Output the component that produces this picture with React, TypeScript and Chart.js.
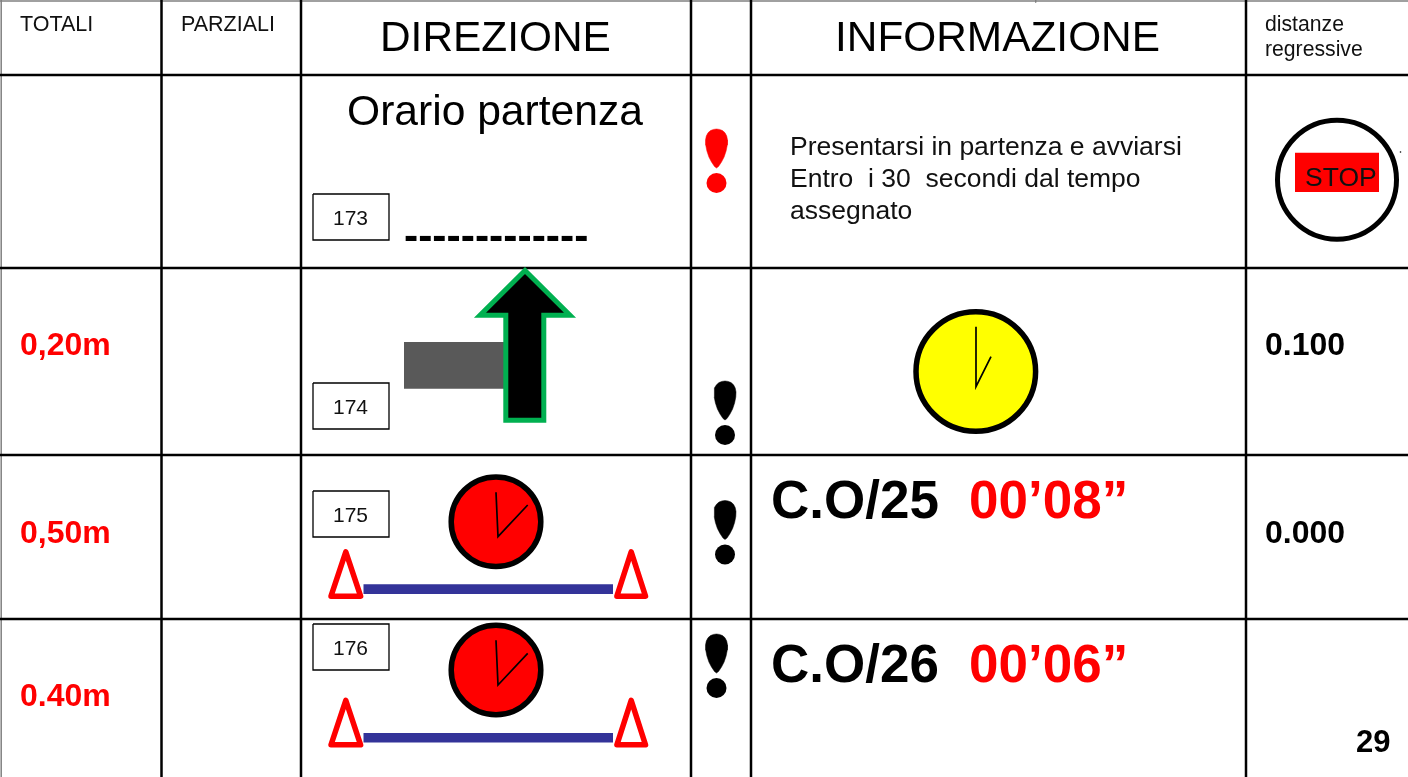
import React, { useEffect, useRef } from "react";
import { Chart, registerables } from "chart.js";

Chart.register(...registerables);

type Pt = [number, number];

const SANS = '"Liberation Sans", Arial, sans-serif';
const BLACK = "#000000";
const INK = "#111111";
const RED = "#ff0000";
const GREEN = "#00b050";
const BLUE = "#333399";
const GREY = "#595959";
const YELLOW = "#ffff00";
const EDGE = "#808080";

const gridColumns = [161.5, 301, 691, 751, 1246];
const gridRows = [75, 268, 455, 619];
const gridBottom = 777;
const gridWidth = 2.5;
const edgeLeft: Pt[] = [[1.2, 0], [1.2, 777]];
const edgeTop: Pt[] = [[0, 1], [1408, 1]];
const stemTick: Pt[] = [[1035.7, 0], [1035.7, 2.5]];

const stepBoxes: Pt[] = [[313, 194], [313, 383], [313, 491], [313, 624]];
const stepBoxSize: Pt = [76, 46];

const dropOutline: Pt[] = [
  [0, 0], [3, 0.4], [6, 1.6], [8.5, 3.8], [10.2, 7], [11, 11], [10.8, 16], [9.6, 22], [7.6, 28],
  [5, 33], [2, 37.5], [0, 39], [-2, 37.5], [-5, 33], [-7.6, 28], [-9.6, 22], [-10.8, 16],
  [-11, 11], [-10.2, 7], [-8.5, 3.8], [-6, 1.6], [-3, 0.4], [0, 0],
];
const alertTops: Pt[] = [[716.5, 129], [725, 381], [725, 500.5], [716.5, 634]];
const alertColors = [RED, BLACK, BLACK, BLACK];
const alertDotOffset = 54;
const alertDotRadius = 10;

const greyBranch: Pt[] = [[404, 342], [504, 342], [504, 388.7], [404, 388.7], [404, 342]];
const arrowOutline: Pt[] = [
  [524.8, 420.2], [505.8, 420.2], [505.8, 315.2], [480, 315.2], [525, 270.5], [570, 315.2],
  [543.8, 315.2], [543.8, 420.2], [524.8, 420.2],
];

const stopBadge: Pt[] = [[1295, 152.7], [1379, 152.7], [1379, 192], [1295, 192], [1295, 152.7]];
const stopRing = { centre: [1337, 179.7] as Pt, radius: 59.5 };
const strayDot: Pt = [1400.5, 152];

const yellowClock = { centre: [975.8, 371.5] as Pt, radius: 59.8 };
const yellowHands: Pt[] = [[976, 326.7], [976, 386.7], [991, 356.7]];
const redClocks: Pt[] = [[496, 521.7], [496, 670]];
const redClockRadius = 44.8;
const redHands: Pt[][] = [
  [[496, 492.3], [498, 536.7], [527.7, 505]],
  [[496, 640.3], [498, 685], [527.7, 653.3]],
];

const markerRows = [0, 148.6];
const leftCone: Pt[] = [[345.8, 596.2], [331, 596.2], [345.8, 551.8], [360.6, 596.2], [345.8, 596.2]];
const rightCone: Pt[] = [[631.2, 596.2], [616.9, 596.2], [631.2, 551.8], [645.5, 596.2], [631.2, 596.2]];
const linkBar: Pt[] = [[363.5, 584.3], [613, 584.3], [613, 594], [363.5, 594], [363.5, 584.3]];

type Label = [string, number, number, string, string];
const labels: Label[] = [
  ["TOTALI", 20, 31, `21.5px ${SANS}`, INK],
  ["PARZIALI", 181, 31, `21.5px ${SANS}`, INK],
  ["DIREZIONE", 380, 50.5, `42.4px ${SANS}`, BLACK],
  ["INFORMAZIONE", 835, 50.5, `42.4px ${SANS}`, BLACK],
  ["distanze", 1265, 31, `21.2px ${SANS}`, INK],
  ["regressive", 1265, 56, `21.2px ${SANS}`, INK],
  ["Orario partenza", 347, 125, `42.6px ${SANS}`, BLACK],
  ["173", 333, 225, `21px ${SANS}`, INK],
  ["-------------", 404, 249.5, `bold 42.6px ${SANS}`, BLACK],
  ["Presentarsi in partenza e avviarsi", 790, 155, `26.5px ${SANS}`, INK],
  ["Entro  i 30  secondi dal tempo", 790, 187, `26.5px ${SANS}`, INK],
  ["assegnato", 790, 219, `26.5px ${SANS}`, INK],
  ["STOP", 1305, 186, `26.5px ${SANS}`, INK],
  ["0,20m", 20, 355, `bold 32px ${SANS}`, RED],
  ["174", 333, 414, `21px ${SANS}`, INK],
  ["0.100", 1265, 355, `bold 32px ${SANS}`, BLACK],
  ["0,50m", 20, 543, `bold 32px ${SANS}`, RED],
  ["175", 333, 522, `21px ${SANS}`, INK],
  ["C.O/25", 771, 517.5, `bold 53px ${SANS}`, BLACK],
  ["00\u201908\u201d", 969, 517.5, `bold 53px ${SANS}`, RED],
  ["0.000", 1265, 543, `bold 32px ${SANS}`, BLACK],
  ["0.40m", 20, 706, `bold 32px ${SANS}`, RED],
  ["176", 333, 655, `21px ${SANS}`, INK],
  ["C.O/26", 771, 681.5, `bold 53px ${SANS}`, BLACK],
  ["00\u201906\u201d", 969, 681.5, `bold 53px ${SANS}`, RED],
  ["29", 1356, 752, `bold 31px ${SANS}`, BLACK],
];

const toXY = (pts: Pt[]) => pts.map(([x, y]) => ({ x, y }));
const line = (pts: Pt[], color: string, width: number, extra: object = {}) => ({
  data: toXY(pts),
  showLine: true,
  borderColor: color,
  borderWidth: width,
  pointRadius: 0,
  tension: 0,
  fill: false,
  clip: false,
  ...extra,
});
const shape = (pts: Pt[], fillColor: string, stroke: string, width: number, extra: object = {}) =>
  line(pts, stroke, width, { fill: "shape", backgroundColor: fillColor, ...extra });
const disc = (c: Pt, radius: number, fillColor: string, stroke: string, width: number) => ({
  data: toXY([c]),
  showLine: false,
  pointStyle: "circle",
  pointRadius: radius,
  pointBackgroundColor: fillColor,
  pointBorderColor: stroke,
  pointBorderWidth: width,
  clip: false,
});
const shift = (pts: Pt[], dx: number, dy: number): Pt[] => pts.map(([x, y]) => [x + dx, y + dy]);

function buildDatasets() {
  const sets: any[] = [];
  sets.push(line(edgeLeft, EDGE, 1.5));
  sets.push(line(edgeTop, EDGE, 1.5));
  sets.push(line(stemTick, EDGE, 1));
  gridColumns.forEach((x) => sets.push(line([[x, 0], [x, gridBottom]], BLACK, gridWidth)));
  gridRows.forEach((y) => sets.push(line([[0, y], [1408, y]], BLACK, gridWidth)));

  stepBoxes.forEach(([x, y]) => {
    const [w, h] = stepBoxSize;
    sets.push(shape([[x, y], [x + w, y], [x + w, y + h], [x, y + h], [x, y]], "#ffffff", BLACK, 1.3));
  });

  alertTops.forEach(([x, y], i) => {
    sets.push(shape(shift(dropOutline, x, y), alertColors[i], alertColors[i], 0.5));
    sets.push(disc([x, y + alertDotOffset], alertDotRadius, alertColors[i], alertColors[i], 0));
  });

  sets.push(shape(greyBranch, GREY, GREY, 0));
  sets.push(shape(arrowOutline, BLACK, GREEN, 5, { borderJoinStyle: "miter" }));

  sets.push(disc(stopRing.centre, stopRing.radius, "#ffffff", BLACK, 5));
  sets.push(shape(stopBadge, RED, RED, 0));
  sets.push(disc(strayDot, 0.8, BLACK, BLACK, 0));

  sets.push(disc(yellowClock.centre, yellowClock.radius, YELLOW, BLACK, 5.5));
  sets.push(line(yellowHands, BLACK, 1.7));

  redClocks.forEach((c, i) => {
    sets.push(disc(c, redClockRadius, RED, BLACK, 5.5));
    sets.push(line(redHands[i], BLACK, 1.7));
  });

  markerRows.forEach((dy) => {
    sets.push(shape(shift(linkBar, 0, dy), BLUE, BLUE, 0));
    sets.push(shape(shift(leftCone, 0, dy), "#ffffff", RED, 5.5, { borderJoinStyle: "round" }));
    sets.push(shape(shift(rightCone, 0, dy), "#ffffff", RED, 5.5, { borderJoinStyle: "round" }));
  });

  sets.forEach((s, i) => (s.order = sets.length - i));
  return sets;
}

const textPlugin = {
  id: "roadbookText",
  afterDatasetsDraw(chart: any) {
    const { ctx, scales } = chart;
    ctx.save();
    ctx.textBaseline = "alphabetic";
    ctx.textAlign = "left";
    labels.forEach(([text, x, y, font, color]) => {
      ctx.font = font;
      ctx.fillStyle = color;
      ctx.fillText(text, scales.x.getPixelForValue(x), scales.y.getPixelForValue(y));
    });
    ctx.restore();
  },
};

export default function App() {
  const ref = useRef<HTMLCanvasElement>(null);
  useEffect(() => {
    document.body.style.margin = "0";
    document.body.style.background = "#ffffff";
    const chart = new Chart(ref.current as HTMLCanvasElement, {
      type: "scatter",
      data: { datasets: buildDatasets() },
      options: {
        animation: false,
        responsive: false,
        layout: { padding: 0, autoPadding: false },
        plugins: { legend: { display: false }, tooltip: { enabled: false } },
        scales: {
          x: { type: "linear", min: 0, max: 1408, display: false },
          y: { type: "linear", min: 0, max: 777, reverse: true, display: false },
        },
      },
      plugins: [textPlugin],
    } as any);
    return () => chart.destroy();
  }, []);
  return <canvas ref={ref} width={1408} height={777} style={{ display: "block" }} />;
}
